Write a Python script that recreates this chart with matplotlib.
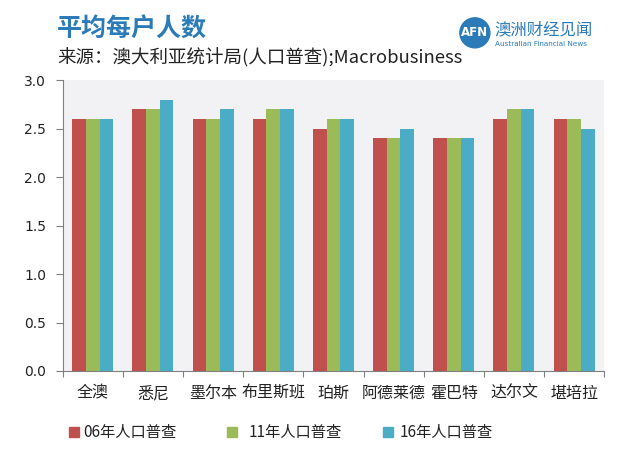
import matplotlib
matplotlib.use("Agg")
import matplotlib.pyplot as plt
import numpy as np
from matplotlib.patches import Ellipse, Rectangle

plt.rcParams["font.family"] = ["Noto Sans CJK SC", "DejaVu Sans"]

cities = ["全澳", "悉尼", "墨尔本", "布里斯班", "珀斯", "阿德莱德", "霍巴特", "达尔文", "堪培拉"]
census_06 = [2.6, 2.7, 2.6, 2.6, 2.5, 2.4, 2.4, 2.6, 2.6]
census_11 = [2.6, 2.7, 2.6, 2.7, 2.6, 2.4, 2.4, 2.7, 2.6]
census_16 = [2.6, 2.8, 2.7, 2.7, 2.6, 2.5, 2.4, 2.7, 2.5]
series_names = ["06年人口普查", "11年人口普查", "16年人口普查"]
colors = ["#C0504D", "#9BBB59", "#4BACC6"]

fig = plt.figure(figsize=(6.4, 4.69), dpi=100)
ax = fig.add_axes([0.098, 0.209, 0.846, 0.62])
ax.set_facecolor("#F2F2F4")

x = np.arange(len(cities))
w = 0.227
for i, vals in enumerate([census_06, census_11, census_16]):
    ax.bar(x + (i - 1) * w, vals, width=w, color=colors[i], zorder=2)

ax.set_xlim(-0.5, len(cities) - 0.5)
ax.set_ylim(0, 3.0)
yt = np.arange(0, 3.01, 0.5)
ax.set_yticks(yt)
ax.set_yticklabels([f"{v:.1f}" for v in yt], fontsize=10, family="DejaVu Sans",
                   color="#222222")

# category labels in the middle, ticks on group boundaries
ax.set_xticks(np.arange(-0.5, len(cities), 1.0))
ax.set_xticklabels([])
ax.set_xticks(x, minor=True)
ax.set_xticklabels(cities, minor=True, fontsize=11.5, color="#222222")
ax.tick_params(axis="x", which="minor", length=0, pad=10)
ax.tick_params(axis="x", which="major", length=4, color="#808080", direction="out")
ax.tick_params(axis="y", length=5, color="#808080", pad=7)

for s in ["top", "right"]:
    ax.spines[s].set_visible(False)
for s in ["left", "bottom"]:
    ax.spines[s].set_color("#808080")

# titles
fig.text(0.089, 0.936, "平均每户人数", fontsize=18, fontweight="bold",
         color="#2B7BB9", va="center")
fig.text(0.089, 0.876, "来源：澳大利亚统计局(人口普查);Macrobusiness", fontsize=13.3,
         color="#222222", va="center")

# logo
fig.patches.append(Ellipse((0.742, 0.930), 30 / 640, 30 / 469, transform=fig.transFigure,
                           color="#2B7BB9"))
fig.text(0.742, 0.930, "AFN", fontsize=8.5, color="white", ha="center", va="center",
         fontweight="bold", family="DejaVu Sans")
fig.text(0.773, 0.936, "澳洲财经见闻", fontsize=11.8, color="#2B7BB9", va="center")
fig.text(0.773, 0.906, "Australian Financial News", fontsize=5.2, color="#2B7BB9",
         va="center", family="DejaVu Sans")

# legend
sq_x = [0.108, 0.355, 0.598]
txt_x = [0.130, 0.389, 0.625]
for sx, tx, name, c in zip(sq_x, txt_x, series_names, colors):
    fig.patches.append(Rectangle((sx, 0.068), 0.016, 0.021, transform=fig.transFigure,
                                 color=c))
    fig.text(tx, 0.077, name, fontsize=11, color="#222222", va="center")

fig.savefig("out.png", dpi=100)
